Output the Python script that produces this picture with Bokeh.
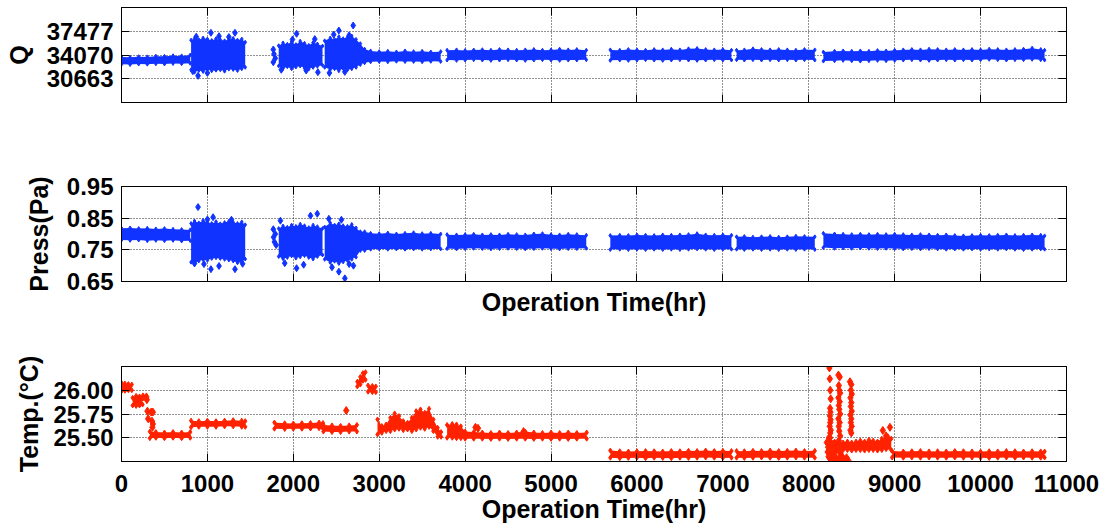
from bokeh.plotting import figure
from bokeh.layouts import column
from bokeh.models import Range1d, LinearAxis, FixedTicker, CustomJSTickFormatter, PrintfTickFormatter
from bokeh.embed import file_html
from bokeh.resources import INLINE

BLUE = "#1133FF"
RED = "#FF2200"
FONT = "Liberation Sans"

X_TICKS = [0, 1000, 2000, 3000, 4000, 5000, 6000, 7000, 8000, 9000, 10000, 11000]
Q_TICKS = [30663, 34070, 37477]
P_TICKS = [0.65, 0.75, 0.85, 0.95]
T_TICKS = [25.50, 25.75, 26.00]

# ---- flow (Q) and pressure share the same sampling times; None = gap ----
QP_T = [0, 100, 200, 300, 400, 500, 600, 700, 800, None,
        810, 850, 900, 950, 1000, 1050, 1100, 1150, 1200, 1250, 1300, 1350, 1400, 1440, None,
        1830, 1880, 1930, 1980, 2030, 2080, 2130, 2180, 2230, 2280, 2340, None,
        2365, 2430, 2480, 2530, 2580, 2630, 2680, 2730, 2780,
        2830, 2900, 3000, 3100, 3200, 3300, 3400, 3500, 3600, 3715, None,
        3790, 3900, 4000, 4100, 4200, 4300, 4400, 4500, 4600, 4700, 4800, 4900, 5000, 5100, 5200, 5300, 5410, None,
        5690, 5800, 5900, 6000, 6100, 6200, 6300, 6400, 6500, 6600, 6700, 6800, 6900, 7000, 7100, None,
        7160, 7250, 7350, 7450, 7550, 7650, 7750, 7850, 7950, 8070, None,
        8170, 8300, 8400, 8500, 8600, 8700, 8800, 8900, 9000, 9100, 9200, 9300, 9400, 9500, 9600, 9700,
        9800, 9900, 10000, 10100, 10200, 10300, 10400, 10500, 10600, 10700, 10745]

Q_LO = [32740, 32700, 32780, 32760, 32810, 32790, 32850, 32830, 32880, None,
        31950, 31600, 31850, 31700, 32000, 31800, 31900, 31950, 31750, 32050, 32000, 31850, 32100, 32300, None,
        32500, 32150, 32400, 32100, 32350, 32500, 32200, 32050, 32300, 32450, 32600, None,
        32300, 32000, 32100, 31800, 32150, 31950, 32100, 32300, 32700,
        32950, 33100, 33150, 33100, 33180, 33130, 33150, 33100, 33170, 33150, None,
        33350, 33300, 33350, 33400, 33350, 33300, 33350, 33400, 33350, 33300, 33350, 33400, 33350, 33300, 33350, 33350, 33400, None,
        33300, 33350, 33300, 33350, 33400, 33350, 33300, 33350, 33400, 33350, 33300, 33350, 33400, 33350, 33350, None,
        33400, 33350, 33400, 33350, 33400, 33350, 33400, 33350, 33400, 33350, None,
        33200, 33250, 33300, 33250, 33200, 33250, 33300, 33250, 33300, 33350, 33400, 33350, 33300, 33350, 33400, 33350,
        33400, 33350, 33400, 33450, 33400, 33350, 33400, 33400, 33450, 33400, 33350]

Q_HI = [33780, 33740, 33820, 33800, 33900, 33880, 33960, 33940, 34060, None,
        36200, 36450, 36250, 36500, 36350, 36150, 36400, 36250, 36100, 36300, 36450, 36200, 36350, 35900, None,
        35400, 35800, 35600, 35950, 35550, 36050, 35750, 35450, 35850, 35650, 35350, None,
        36100, 36500, 36300, 36700, 36400, 36600, 36800, 36300, 35700,
        34900, 34650, 34550, 34600, 34500, 34650, 34550, 34600, 34500, 34550, None,
        34750, 34800, 34720, 34780, 34820, 34750, 34850, 34800, 34750, 34800, 34860, 34750, 34800, 34900, 34800, 34850, 34750, None,
        34800, 34750, 34850, 34800, 34750, 34850, 34800, 34900, 34800, 34950, 35000, 34850, 34800, 34850, 34750, None,
        34750, 34800, 34950, 34850, 34800, 34850, 34800, 34750, 34850, 34800, None,
        34500, 34600, 34650, 34600, 34650, 34600, 34700, 34650, 34750, 34800, 34850, 34800, 34900, 34850, 34800, 34850,
        34800, 34850, 34800, 34900, 34850, 34800, 34850, 34900, 35050, 34850, 34750]

Q_OUT_T = [1041, 1135, 1321, 891, 830, 1000, 1250, 870,
           1767, 1767, 1775, 1790,
           2038, 2286, 1990, 1860, 2150, 2250,
           2697, 2530, 2420, 2600, 2470, 2650]
Q_OUT_V = [37254, 36770, 37254, 31086, 31750, 31500, 36650, 36700,
           34860, 33037, 34200, 33600,
           37112, 31603, 36300, 31950, 31850, 36350,
           38302, 37585, 31500, 31650, 37000, 36900]

P_LO = [0.781, 0.780, 0.781, 0.779, 0.780, 0.779, 0.780, 0.778, 0.779, None,
        0.711, 0.707, 0.715, 0.719, 0.717, 0.723, 0.725, 0.723, 0.720, 0.718, 0.715, 0.709, 0.711, 0.721, None,
        0.729, 0.722, 0.726, 0.731, 0.724, 0.728, 0.732, 0.726, 0.721, 0.729, 0.734, None,
        0.720, 0.710, 0.714, 0.707, 0.712, 0.716, 0.720, 0.727, 0.748,
        0.748, 0.752, 0.753, 0.752, 0.753, 0.752, 0.753, 0.752, 0.753, 0.753, None,
        0.754, 0.753, 0.754, 0.755, 0.754, 0.753, 0.754, 0.755, 0.754, 0.753, 0.754, 0.755, 0.754, 0.753, 0.754, 0.754, 0.755, None,
        0.751, 0.752, 0.751, 0.752, 0.751, 0.752, 0.751, 0.752, 0.751, 0.752, 0.753, 0.752, 0.751, 0.752, 0.752, None,
        0.752, 0.751, 0.752, 0.751, 0.752, 0.751, 0.752, 0.751, 0.752, 0.751, None,
        0.757, 0.755, 0.756, 0.755, 0.756, 0.755, 0.754, 0.755, 0.754, 0.753, 0.754, 0.753, 0.754, 0.753, 0.752, 0.753,
        0.752, 0.753, 0.752, 0.753, 0.752, 0.753, 0.752, 0.751, 0.752, 0.753, 0.752]

P_HI = [0.818, 0.819, 0.817, 0.818, 0.816, 0.817, 0.815, 0.814, 0.813, None,
        0.833, 0.841, 0.835, 0.843, 0.837, 0.833, 0.839, 0.832, 0.836, 0.840, 0.837, 0.833, 0.838, 0.829, None,
        0.817, 0.825, 0.821, 0.828, 0.824, 0.831, 0.826, 0.820, 0.828, 0.823, 0.817, None,
        0.822, 0.835, 0.828, 0.832, 0.826, 0.824, 0.830, 0.819, 0.807,
        0.807, 0.802, 0.801, 0.803, 0.800, 0.802, 0.804, 0.801, 0.802, 0.800, None,
        0.798, 0.797, 0.798, 0.799, 0.797, 0.798, 0.797, 0.799, 0.798, 0.797, 0.800, 0.801, 0.798, 0.797, 0.799, 0.798, 0.796, None,
        0.795, 0.796, 0.795, 0.797, 0.796, 0.795, 0.797, 0.796, 0.797, 0.798, 0.801, 0.797, 0.796, 0.797, 0.796, None,
        0.791, 0.792, 0.790, 0.791, 0.792, 0.790, 0.791, 0.793, 0.792, 0.791, None,
        0.802, 0.800, 0.799, 0.798, 0.799, 0.798, 0.799, 0.798, 0.799, 0.798, 0.797, 0.798, 0.797, 0.796, 0.797, 0.795,
        0.794, 0.795, 0.796, 0.795, 0.796, 0.797, 0.795, 0.796, 0.797, 0.796, 0.794]

P_OUT_T = [891, 1066, 1041, 1135, 1321, 850, 960, 1410, 1000, 1280,
           1767, 1770, 1780, 1790, 1800,
           2038, 2279, 2120, 2200, 1900, 1850,
           2600, 2530, 2414, 2450, 2700, 2560, 2650]
P_OUT_V = [0.885, 0.853, 0.689, 0.699, 0.689, 0.707, 0.705, 0.706, 0.846, 0.845,
           0.815, 0.790, 0.775, 0.800, 0.765,
           0.692, 0.864, 0.703, 0.858, 0.708, 0.842,
           0.660, 0.681, 0.848, 0.695, 0.700, 0.845, 0.705]

# ---- temperature ----
TEMP_T = [0, 40, 80, 120, None,
          130, 170, 210, 245, None,
          330, 400, 500, 600, 700, 800, None,
          810, 900, 1000, 1100, 1200, 1300, 1400, 1440, None,
          1780, 1900, 2000, 2100, 2200, 2300, 2345, None,
          2350, 2450, 2550, 2650, 2740, None,
          2745, 2780, 2810, 2840, None,
          2870, 2920, 2960, None,
          2980, 3030, 3080, 3130, 3180, 3230, 3280, 3330, 3380, 3430, 3480, 3530, 3580, 3630, 3680, 3720, None,
          3790, 3850, 3900, 3950, 4000, 4100, 4200, 4300, 4400, 4500, 4600, 4700, 4800, 4900, 5000, 5100, 5200, 5300, 5415, None,
          5690, 5800, 5900, 6000, 6100, 6200, 6300, 6400, 6500, 6600, 6700, 6800, 6900, 7000, 7100, None,
          7160, 7250, 7350, 7450, 7550, 7650, 7750, 7850, 7950, 8070, None,
          8250, 8300, 8350, 8400, 8450, 8500, 8550, 8600, 8650, 8700, 8750, 8800, 8850, 8900, 8960, None,
          8970, 9100, 9200, 9300, 9400, 9500, 9600, 9700, 9800, 9900, 10000, 10100, 10200, 10300, 10400,
          10500, 10600, 10700, 10745]

TEMP_LO = [25.99, 25.995, 26.0, 26.0, None,
           25.84, 25.835, 25.84, 25.85, None,
           25.495, 25.5, 25.495, 25.5, 25.495, 25.5, None,
           25.61, 25.615, 25.615, 25.615, 25.62, 25.62, 25.615, 25.615, None,
           25.595, 25.592, 25.595, 25.595, 25.598, 25.60, 25.595, None,
           25.565, 25.56, 25.56, 25.565, 25.565, None,
           26.04, 26.06, 26.10, 26.11, None,
           25.985, 25.98, 25.98, None,
           25.535, 25.552, 25.57, 25.57, 25.587, 25.594, 25.58, 25.587, 25.57, 25.587, 25.605, 25.594, 25.615, 25.57, 25.51, 25.51, None,
           25.50, 25.50, 25.495, 25.495, 25.49, 25.49, 25.49, 25.488, 25.49, 25.488, 25.49, 25.49, 25.488, 25.49, 25.488, 25.49, 25.488, 25.49, 25.49, None,
           25.29, 25.285, 25.288, 25.29, 25.285, 25.29, 25.288, 25.285, 25.29, 25.288, 25.29, 25.292, 25.29, 25.288, 25.29, None,
           25.29, 25.288, 25.29, 25.292, 25.29, 25.288, 25.29, 25.292, 25.29, 25.29, None,
           25.28, 25.34, 25.36, 25.37, 25.37, 25.365, 25.37, 25.37, 25.365, 25.37, 25.37, 25.365, 25.37, 25.38, 25.37, None,
           25.292, 25.29, 25.292, 25.29, 25.292, 25.29, 25.29, 25.292, 25.29, 25.292, 25.29, 25.288, 25.29, 25.292, 25.29,
           25.292, 25.29, 25.29, 25.292]

TEMP_HI = [26.078, 26.07, 26.065, 26.06, None,
           25.92, 25.94, 25.935, 25.92, None,
           25.565, 25.56, 25.555, 25.56, 25.555, 25.56, None,
           25.68, 25.675, 25.68, 25.675, 25.68, 25.685, 25.68, 25.675, None,
           25.66, 25.652, 25.65, 25.653, 25.655, 25.66, 25.655, None,
           25.635, 25.63, 25.625, 25.63, 25.635, None,
           26.09, 26.14, 26.18, 26.19, None,
           26.05, 26.045, 26.04, None,
           25.693, 25.623, 25.64, 25.71, 25.756, 25.728, 25.675, 25.658, 25.71, 25.78, 25.798, 25.763, 25.805, 25.693, 25.605, 25.56, None,
           25.635, 25.645, 25.64, 25.62, 25.565, 25.56, 25.555, 25.55, 25.555, 25.55, 25.555, 25.565, 25.555, 25.55, 25.555, 25.55, 25.555, 25.55, 25.555, None,
           25.365, 25.358, 25.355, 25.358, 25.36, 25.358, 25.355, 25.36, 25.358, 25.362, 25.36, 25.365, 25.36, 25.362, 25.36, None,
           25.36, 25.358, 25.362, 25.36, 25.365, 25.36, 25.362, 25.365, 25.36, 25.362, None,
           25.49, 25.46, 25.47, 25.45, 25.46, 25.45, 25.46, 25.47, 25.46, 25.48, 25.47, 25.46, 25.49, 25.50, 25.49, None,
           25.36, 25.355, 25.358, 25.36, 25.356, 25.358, 25.355, 25.36, 25.358, 25.356, 25.354, 25.358, 25.356, 25.36, 25.358,
           25.355, 25.358, 25.356, 25.355]

TEMP_OUT_T = [250, 290, 295, 302, 345, 365, 310, 355, 365, 360, 2616, 4120, 4150, 4680,
              8240, 8245, 8250, 8255, 8248, 8252, 8246, 8254, 8250, 8244, 8256, 8250, 8248, 8252, 8246, 8254, 8250, 8260,
              8345, 8360, 8350, 8355, 8365, 8345, 8360, 8350, 8355, 8365, 8345, 8360, 8350, 8355, 8365, 8350, 8360, 8345,
              8480, 8495, 8490, 8500, 8485, 8495, 8490, 8500, 8485, 8495, 8490, 8500, 8485, 8495,
              8210, 8220, 8230, 8270, 8280, 8300, 8320, 8380, 8400, 8430,
              8225, 8235, 8265, 8290, 8310, 8330, 8370, 8390, 8410, 8440, 8460,
              8862, 8945, 8920, 8900]
TEMP_OUT_V = [25.93, 25.93, 25.90, 25.78, 25.77, 25.77, 25.70, 25.675, 25.645, 25.61, 25.787, 25.61, 25.60, 25.565,
              26.235, 26.12, 26.0, 25.91, 25.81, 25.77, 25.73, 25.69, 25.66, 25.62, 25.58, 25.55, 25.50, 25.45, 25.40, 25.33, 25.28, 25.255,
              26.16, 26.14, 26.05, 26.0, 25.97, 25.92, 25.88, 25.84, 25.80, 25.75, 25.70, 25.66, 25.62, 25.57, 25.52, 25.47, 25.30, 25.27,
              26.09, 26.06, 26.0, 25.96, 25.92, 25.87, 25.83, 25.78, 25.74, 25.70, 25.66, 25.62, 25.58, 25.55,
              25.45, 25.35, 25.30, 25.29, 25.26, 25.33, 25.28, 25.26, 25.28, 25.25,
              25.40, 25.50, 25.36, 25.30, 25.25, 25.38, 25.33, 25.30, 25.27, 25.29, 25.26,
              25.577, 25.61, 25.50, 25.52]


def segments(t, lo, hi):
    out, cur = [], ([], [], [])
    for a, b, c in zip(t, lo, hi):
        if a is None:
            if cur[0]:
                out.append(cur)
            cur = ([], [], [])
        else:
            cur[0].append(a)
            cur[1].append(b)
            cur[2].append(c)
    if cur[0]:
        out.append(cur)
    return out


def draw(p, t, lo, hi, ot, ov, color, edge_size, out_size):
    for xs, ls, hs in segments(t, lo, hi):
        p.varea(x=xs, y1=ls, y2=hs, fill_color=color)
        p.scatter(xs + xs, ls + hs, marker="diamond", size=edge_size, color=color)
    p.scatter(ot, ov, marker="diamond", size=out_size, color=color)


def blank():
    return CustomJSTickFormatter(code="return ''")


def make_fig(height, top, bottom, yrange, yticks, yfmt, ylabel, ystand,
             xlabels, xlabel, xstand):
    p = figure(width=1111, height=height, x_range=Range1d(0, 11000),
               y_range=Range1d(*yrange), output_backend="svg", toolbar_location=None,
               min_border_left=121, min_border_right=45, min_border_top=top,
               min_border_bottom=bottom)
    p.outline_line_color = "black"
    p.outline_line_width = 1
    p.background_fill_color = "white"
    p.border_fill_color = "white"

    p.xaxis.ticker = FixedTicker(ticks=X_TICKS)
    p.yaxis.ticker = FixedTicker(ticks=yticks)
    p.yaxis.formatter = PrintfTickFormatter(format=yfmt)
    if not xlabels:
        p.xaxis.formatter = blank()
        p.xaxis.major_label_text_font_size = "1px"
        p.xaxis.major_label_standoff = 0
    else:
        p.xaxis.major_label_text_font_size = "24px"
        p.xaxis.major_label_standoff = 13
    if xlabel:
        p.xaxis.axis_label = xlabel
        p.xaxis.axis_label_standoff = xstand
    p.yaxis.axis_label = ylabel
    p.yaxis.axis_label_standoff = ystand
    p.yaxis.major_label_text_font_size = "24px"
    p.yaxis.major_label_standoff = 8

    for ax in list(p.xaxis) + list(p.yaxis):
        ax.axis_line_color = "black"
        ax.major_tick_line_color = "black"
        ax.major_tick_in = 8
        ax.major_tick_out = 0
        ax.minor_tick_line_color = None
        ax.major_label_text_font = FONT
        ax.major_label_text_font_style = "bold"
        ax.major_label_text_color = "black"
        ax.axis_label_text_font = FONT
        ax.axis_label_text_font_style = "bold"
        ax.axis_label_text_font_size = "25px"
        ax.axis_label_text_color = "black"

    for loc, tk in (("right", yticks), ("above", X_TICKS)):
        ax = LinearAxis(ticker=FixedTicker(ticks=tk), formatter=blank())
        ax.major_label_text_font_size = "1px"
        ax.major_label_standoff = 0
        ax.major_tick_in = 8
        ax.major_tick_out = 0
        ax.minor_tick_line_color = None
        ax.axis_line_color = "black"
        ax.major_tick_line_color = "black"
        p.add_layout(ax, loc)

    p.xgrid.ticker = FixedTicker(ticks=X_TICKS)
    p.ygrid.ticker = FixedTicker(ticks=yticks)
    for g in (p.xgrid, p.ygrid):
        g.grid_line_color = "#222222"
        g.grid_line_dash = "1 2"
        g.grid_line_width = 1
    return p


f1 = make_fig(140, 7, 38, (27256, 40884), Q_TICKS, "%d", "Q", 11, False, None, 0)
draw(f1, QP_T, Q_LO, Q_HI, Q_OUT_T, Q_OUT_V, BLUE, 4, 7)

f2 = make_fig(180, 46, 39, (0.65, 0.95), P_TICKS, "%.2f", "Press(Pa)", 11, False,
              "Operation Time(hr)", 6)
draw(f2, QP_T, P_LO, P_HI, P_OUT_T, P_OUT_V, BLUE, 4, 7)

f3 = make_fig(211, 46, 70, (25.25, 26.25), T_TICKS, "%.2f", "Temp.(°C)", 7, True,
              "Operation Time(hr)", 0)
draw(f3, TEMP_T, TEMP_LO, TEMP_HI, TEMP_OUT_T, TEMP_OUT_V, RED, 5, 8)

layout = column(f1, f2, f3, spacing=0)
open("out.html", "w").write(file_html(layout, INLINE))
